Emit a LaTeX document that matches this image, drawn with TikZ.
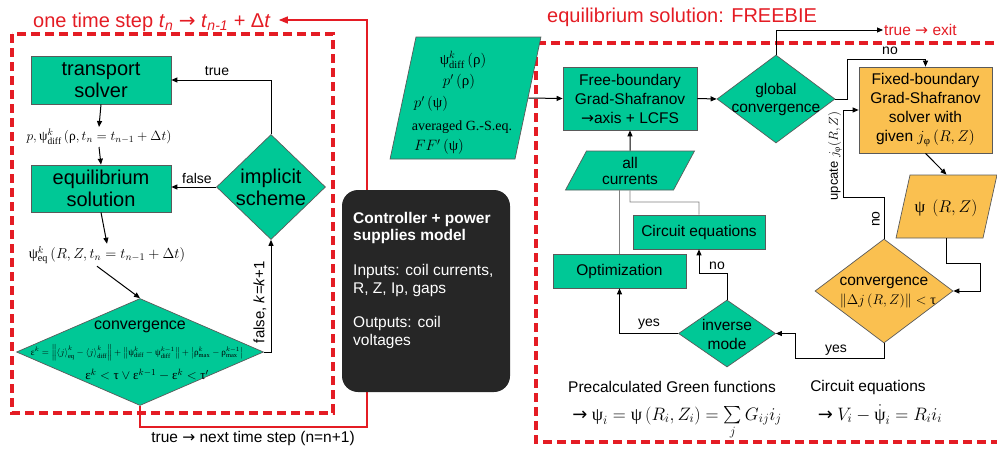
\RequirePackage{fix-cm}
\documentclass[tikz,border=0pt]{standalone}
\usepackage{amsmath}
\usepackage{fontspec}
\setmainfont{Liberation Serif}
\setsansfont{Liberation Sans}
\newfontfamily\djv{DejaVu Sans}
\usetikzlibrary{shapes.geometric,arrows.meta,calc}
\definecolor{grn}{RGB}{0,200,150}
\definecolor{org}{RGB}{250,192,80}
\definecolor{redc}{RGB}{228,28,36}
\definecolor{bord}{RGB}{90,90,90}
\definecolor{dark}{RGB}{38,38,38}
\newcommand\Gpsi{\textrm{ψ}}
\newcommand\Grho{\textrm{ρ}}
\newcommand\Gtau{\textrm{τ}}
\newcommand\Geps{\textrm{ε}}
\newcommand\Gphi{\textrm{φ}}
\newcommand\pbox[2]{\rule{0pt}{#2pt}\rule{#1pt}{0pt}}
\begin{document}
\begin{tikzpicture}[x=1pt,y=-1pt,font=\sffamily,
 box/.style={rectangle, draw=bord, line width=0.7pt, inner sep=0pt},
 gbox/.style={box, fill=grn},
 obox/.style={box, fill=org},
 dia/.style={diamond, draw=bord, line width=0.7pt, inner sep=0pt, aspect=1},
 para/.style={trapezium, draw=bord, line width=0.7pt, inner sep=0pt},
 txt/.style={inner sep=0pt, align=center},
 conn/.style={line width=1pt, draw=black},
 arr/.style={conn, -{Triangle[length=6pt,width=5pt]}},
 gline/.style={line width=0.9pt, draw=gray},
 reddash/.style={draw=redc, line width=3.2pt, dash pattern=on 9pt off 5pt},
 redline/.style={draw=redc, line width=1.3pt},
 lbl/.style={inner sep=0pt, font=\sffamily\fontsize{14}{16}\selectfont},
 f20/.style={font=\sffamily\fontsize{20}{22}\selectfont},
 f16/.style={font=\sffamily\fontsize{16}{18}\selectfont},
 f15/.style={font=\sffamily\fontsize{15.5}{19}\selectfont},
]
\useasboundingbox (0,0) rectangle (997,450);

% frames
\draw[reddash] (12,34) rectangle (333,413);
\draw[reddash] (536,43) rectangle (1010,442);

% ---------- left part ----------
\node[anchor=base west, inner sep=0pt, text=redc, f20] (t1) at (33,27)
 {one time step \textit{t}\textsubscript{\textit{n}} {\djv →} \textit{t}\textsubscript{\textit{n-1}} + Δ\textit{t}};

\node[gbox, f20, align=center, minimum width=140, minimum height=48] (ts) at (101,80) {transport\\solver};
\node[txt, inner sep=2pt, font=\fontsize{13.5}{16}\selectfont] (f1) at (99,137)
 {$p,\Gpsi^{k}_{\mathrm{diff}}\left(\Grho,t_n=t_{n-1}+\Delta t\right)$};
\node[gbox, f20, align=center, minimum width=140, minimum height=47] (es) at (101,188.5) {equilibrium\\solution};
\node[txt, inner sep=2pt, font=\fontsize{14.5}{17}\selectfont] (f2) at (107,255)
 {$\Gpsi^{k}_{\mathrm{eq}}\left(R,Z,t_n=t_{n-1}+\Delta t\right)$};

\node[dia, fill=grn, minimum width=247, minimum height=107] (conv) at (140,352) {};
\node[txt, f16] (convt) at (140,327) {convergence};
\node[txt, font=\fontsize{10}{12}\selectfont] (conve1) at (137,353)
 {\resizebox{212pt}{!}{$\Geps^{k}=\left\|\left\langle j\right\rangle^{k}_{\mathrm{eq}}-\left\langle j\right\rangle^{k}_{\mathrm{diff}}\right\|+\left\|\Gpsi^{k}_{\mathrm{diff}}-\Gpsi^{k-1}_{\mathrm{diff}}\right\|+\left|\Grho^{k}_{\max}-\Grho^{k-1}_{\max}\right|$}};
\node[txt, font=\fontsize{13}{15}\selectfont] (conve2) at (147,375)
 {$\Geps^{k}<\Gtau\vee\Geps^{k-1}-\Geps^{k}<\Gtau'$};

\node[dia, fill=grn, minimum width=109, minimum height=105] (impl) at (271,187) {};
\node[txt, f20] (implt) at (271,187.5) {implicit\\scheme};

\draw[arr] (ts.south) -- (f1.north);
\draw[arr] (f1.south) -- (es.north);
\draw[arr] (es.south) -- (f2.north);
\draw[arr] ([xshift=-10pt]f2.south) -- (conv.north);
\draw[arr] (impl.north) |- (ts.east);
\node[lbl] (ltrue) at (217,71) {true};
\draw[arr] (impl.west) -- (impl.west -| es.east);
\node[lbl] (lfalse) at (197,178) {false};
\draw[arr] (conv.east) -| (impl.south);
\node[lbl, rotate=90, font=\sffamily\fontsize{15}{17}\selectfont] (lk) at (260,302) {false, \textit{k}=\textit{k}+1};

% red loop
\coordinate (rt) at (367,20);
\draw[redline, -{Triangle[length=9pt,width=7pt]}] (conv.south) -- ++(0,21) -| (rt) -- ($(rt -| t1.east)+(8,0)$);
\node[lbl, font=\sffamily\fontsize{15.5}{17}\selectfont] (nx) at (253,438) {true {\djv →} next time step (n=n+1)};

% controller box
\node[rectangle, rounded corners=16pt, fill=dark, minimum width=168, minimum height=202, inner sep=0pt] (ctrl) at (426,291) {};
\node[anchor=north west, inner sep=0pt, text=white, align=left, font=\sffamily\fontsize{15.5}{17.4}\selectfont] (ctrlt) at (353,212)
 {\textbf{Controller + power}\\\textbf{supplies model}\\[17.4pt]Inputs: coil currents,\\R, Z, Ip, gaps\\[17.4pt]Outputs: coil\\voltages};

% ---------- right part ----------
\node[anchor=base west, inner sep=0pt, text=redc, f20] (t2) at (547,22) {equilibrium solution: FREEBIE};

\node[para, fill=grn, trapezium left angle=78, trapezium right angle=102] (inp) at (465.5,98) {\pbox{99}{122}};
\node[txt, font=\fontsize{15}{17}\selectfont] (i1) at (463,60) {$\Gpsi^{k}_{\mathrm{diff}}\left(\Grho\right)$};
\node[txt, font=\fontsize{15}{17}\selectfont] (i2) at (459,82) {$p'\left(\Grho\right)$};
\node[txt, font=\fontsize{15}{17}\selectfont] (i3) at (431,104) {$p'\left(\Gpsi\right)$};
\node[txt, font=\rmfamily\fontsize{14}{16}\selectfont] (i4) at (462,127) {averaged G.-S.eq.};
\node[txt, font=\fontsize{15}{17}\selectfont] (i5) at (439,147) {$FF'\left(\Gpsi\right)$};

\node[gbox, f15, align=center, minimum width=134, minimum height=63] (fb) at (630,98.5) {Free-boundary\\Grad-Shafranov\\{\djv →}axis + LCFS};
\draw[arr] (inp.east) -- (fb.west);

\node[dia, fill=grn, minimum width=118, minimum height=88] (gc) at (776,99) {};
\node[txt, font=\sffamily\fontsize{15.5}{18}\selectfont] (gct) at (776,99) {global\\convergence};
\draw[arr] (fb.east) -- (gc.west);

\node[anchor=west, inner sep=1pt, text=redc, f15] (exit) at (883,30) {true {\djv →} exit};
\draw[arr] (gc.north) |- (exit.west);

\node[obox, f15, align=center, minimum width=133, minimum height=86] (fixb) at (925.5,110)
 {Fixed-boundary\\Grad-Shafranov\\solver with\\given $j_{\Gphi}\left(R,Z\right)$};
\coordinate (g1) at (847,59);
\draw[arr] (gc.east) -| (g1) -| (fixb.north);
\node[lbl] (no1) at (890,51) {no};

\node[para, fill=org, trapezium left angle=77.5, trapezium right angle=102.5] (psi) at (946.5,206.5) {\pbox{73}{63}};
\node[txt, font=\fontsize{17}{19}\selectfont] (psit) at (946,208) {$\Gpsi\ \left(R,Z\right)$};
\draw[arr] (fixb.south) -- (psi.north);

\node[dia, fill=org, minimum width=138, minimum height=104] (cd) at (884,291) {};
\node[txt, f15] (cdt) at (884,283) {convergence};
\node[txt, font=\fontsize{14}{16}\selectfont] (cde) at (888,301) {$\left\|\Delta j\left(R,Z\right)\right\|<\Gtau$};
\coordinate (p1) at (980,263);
\draw[arr] (psi.south) |- (p1) |- (cd.east);

\coordinate (u1) at (843,197);
\draw[arr] (cd.north) |- (u1) |- (fixb.west);
\node[lbl, rotate=90] (no2) at (876,219) {no};
\node[lbl, rotate=90, font=\sffamily\fontsize{13}{15}\selectfont] (upd) at (835,156) {upcate $j_{\Gphi}(R,Z)$};

\node[dia, fill=grn, minimum width=97, minimum height=67] (inv) at (727,333.5) {};
\node[txt, f15] (invt) at (727,334) {inverse\\mode};
\coordinate (y1) at (795,358);
\draw[arr] (cd.south) |- (y1) |- (inv.east);
\node[lbl] (yes2) at (836,350) {yes};

\node[gbox, f15, minimum width=133, minimum height=34] (opt) at (619.5,271) {Optimization};
\node[gbox, f15, minimum width=132, minimum height=34] (circ) at (699,232) {Circuit equations};
\draw[arr] (inv.west) -| (opt.south);
\node[lbl] (yes1) at (649,324) {yes};
\coordinate (n1) at (699,273);
\draw[arr] (inv.north) |- (n1) -- (circ.south);
\node[lbl] (no3) at (717,266) {no};

\node[para, fill=grn, trapezium left angle=61.7, trapezium right angle=118.3] (ac) at (630,170.5) {\pbox{87}{39}};
\node[txt, font=\sffamily\fontsize{15.5}{16}\selectfont] (act) at (630,171) {all\\currents};
\draw[arr] (ac.north) -- (fb.south);
\coordinate (c1) at (630,202);
\draw[gline] (circ.north) |- (c1) -- (ac.south);
\draw[gline] (opt.north) -- (opt.north |- ac.south);

% bottom formulas
\node[txt, f15] (pg) at (672,387) {Precalculated Green functions};
\node[anchor=base, inner sep=0pt, font=\fontsize{18}{20}\selectfont] (pgf) at (677,420)
 {$\text{\djv →}\ \Gpsi_i=\Gpsi\left(R_i,Z_i\right)=\sum\limits_j G_{ij}i_j$};
\node[txt, f15] (ce) at (868,387) {Circuit equations};
\node[anchor=base, inner sep=0pt, font=\fontsize{18}{20}\selectfont] (cef) at (880,420)
 {$\text{\djv →}\ V_i-\dot{\Gpsi}_i=R_i i_i$};
\end{tikzpicture}
\end{document}
